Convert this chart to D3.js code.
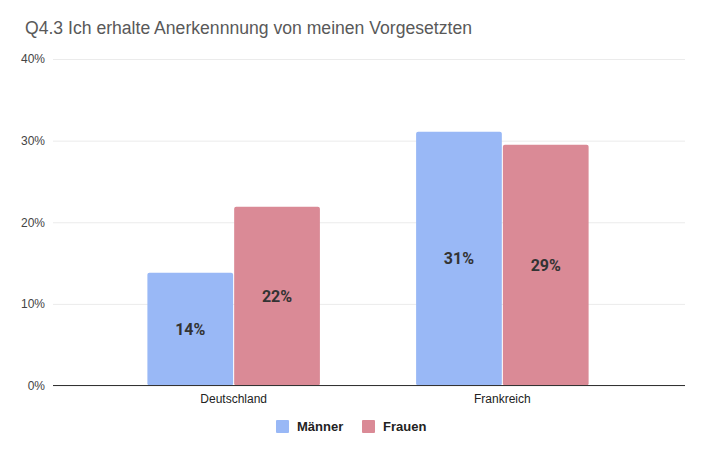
<!DOCTYPE html>
<html>
<head>
<meta charset="utf-8">
<script src="https://cdn.jsdelivr.net/npm/d3@7"></script>
<style>
  body { margin: 0; background: #fff; }
  svg { display: block; font-family: Arial, "Liberation Sans", sans-serif; }
</style>
</head>
<body>
<div id="chart"></div>
<script>
var categories = ['Deutschland', 'Frankreich'],
seriesNames = ['Männer', 'Frauen'],
maenner = [0.138, 0.311],
frauen = [0.219, 0.295],
labels = [['14%', '31%'], ['22%', '29%']],
yTicks = [0, 0.1, 0.2, 0.3, 0.4],
colors = ['#99b8f6', '#da8a96'];

var w = 703, h = 449,
plotLeft = 53, plotRight = 685, plotTop = 59, plotBottom = 385.5;

var svg = d3.select('#chart').
append('svg').
attr('width', w).
attr('height', h);

svg.append('text').
attr('x', 25).
attr('y', 34).
attr('fill', '#595959').
style('font-size', '17.6px').
text('Q4.3 Ich erhalte Anerkennnung von meinen Vorgesetzten');

var yScale = d3.scaleLinear().
domain([0, 0.4]).
range([plotBottom, plotTop]);

var x0 = d3.scaleBand().
domain(categories).
range([plotLeft - 1, plotRight - 1]).
paddingInner(0.358).
paddingOuter(0.355);

var x1 = d3.scaleBand().
domain(seriesNames).
range([0, x0.bandwidth()]).
paddingInner(0.012);

// gridlines and tick labels
var yAxis = d3.axisLeft(yScale).
tickValues(yTicks).
tickSize(-(plotRight - plotLeft)).
tickPadding(8).
tickFormat(d3.format('.0%'));

var yG = svg.append('g').
attr('transform', 'translate(' + plotLeft + ',0)').
call(yAxis);
yG.select('.domain').remove();
yG.selectAll('.tick line').attr('stroke', '#ebebeb');
yG.selectAll('.tick text').
attr('fill', '#444').
style('font-size', '12px').
style('font-family', 'Arial, "Liberation Sans", sans-serif');

var rows = [maenner, frauen];
var data = [];
categories.forEach(function (c, i) {
  seriesNames.forEach(function (s, j) {
    data.push({ cat: c, series: s, value: rows[j][i], label: labels[j][i], color: colors[j] });
  });
});

var bars = svg.append('g').
selectAll('g').
data(data).
enter().
append('g');

bars.append('rect').
attr('x', d => x0(d.cat) + x1(d.series)).
attr('y', d => yScale(d.value)).
attr('width', x1.bandwidth()).
attr('height', d => yScale(0) - yScale(d.value)).
attr('rx', 2).
attr('fill', d => d.color);

bars.append('text').
attr('x', d => x0(d.cat) + x1(d.series) + x1.bandwidth() / 2).
attr('y', d => (yScale(d.value) + yScale(0)) / 2).
attr('dy', '0.36em').
attr('text-anchor', 'middle').
attr('fill', '#333').
style('font-family', 'Roboto, sans-serif').
style('font-weight', 'bold').
style('font-size', '16px').
text(d => d.label);

// baseline
svg.append('line').
attr('x1', plotLeft).
attr('x2', plotRight).
attr('y1', yScale(0)).
attr('y2', yScale(0)).
attr('stroke', '#333').
attr('stroke-width', 1);

var xAxis = d3.axisBottom(x0).tickSize(0).tickPadding(9);
var xG = svg.append('g').
attr('transform', 'translate(0,' + yScale(0) + ')').
call(xAxis);
xG.select('.domain').remove();
xG.selectAll('.tick text').
attr('fill', '#222').
style('font-size', '12px').
style('font-family', 'Arial, "Liberation Sans", sans-serif');

// legend
var legendX = [276, 362];
var legend = svg.append('g').
selectAll('g').
data(seriesNames).
enter().
append('g').
attr('transform', (d, i) => 'translate(' + legendX[i] + ',420)');

legend.append('rect').
attr('width', 13).
attr('height', 13).
attr('rx', 1).
attr('fill', (d, i) => colors[i]);

legend.append('text').
attr('x', 21).
attr('y', 6.5).
attr('dy', '0.36em').
attr('fill', '#222').
style('font-weight', 'bold').
style('font-size', '13px').
text(d => d);
</script>
</body>
</html>
